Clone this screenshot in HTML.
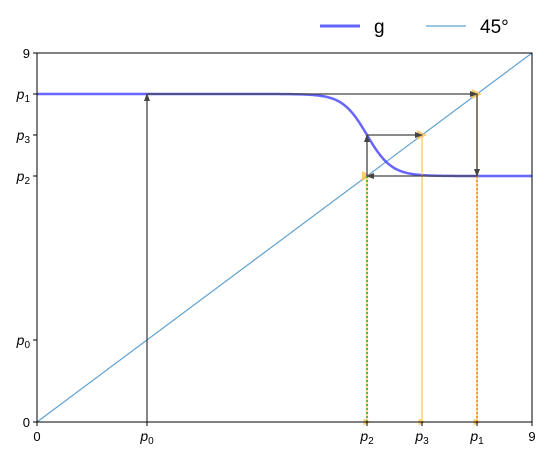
<!DOCTYPE html>
<html><head><meta charset="utf-8"><style>
body{margin:0;background:#fff;font-family:"Liberation Sans",sans-serif}
</style></head><body>
<svg id="c" width="546" height="457" xmlns="http://www.w3.org/2000/svg">
<defs>
<marker id="ak" markerWidth="8" markerHeight="8" refX="7" refY="4" orient="auto" markerUnits="userSpaceOnUse"><path d="M0,1 L8,4 L0,7 z" fill="#444"/></marker>
</defs>
<g id="plot"></g>
<g>
<line x1="320" y1="26" x2="360" y2="26" stroke="#6464ff" stroke-width="3"/>
<text x="374" y="33" font-size="19" fill="#000">g</text>
<line x1="426" y1="26" x2="466" y2="26" stroke="#5fa2d0" stroke-width="1.2"/>
<text x="480" y="33" font-size="19" fill="#000">45°</text>
</g>
</svg>
<script>
const axisTicks=[0,9];
const pointNames=["p0","p1","p2","p3"];
const pointValues=[2,8,6,7];
const gLow=[6];const gHigh=[8];const gCenter=[6];const gSteep=[4.5];
const X0=37,X1=532,Y0=422,Y1=53;
const sx=v=>X0+(v-0)/(9-0)*(X1-X0);
const sy=v=>Y0-(v-0)/(9-0)*(Y0-Y1);
const g=x=>gLow[0]+(gHigh[0]-gLow[0])/(1+Math.exp(gSteep[0]*(x-gCenter[0])));
const NS="http://www.w3.org/2000/svg";
const P=document.getElementById('plot');
function mk(t,a,p){const e=document.createElementNS(NS,t);for(const k in a)e.setAttribute(k,a[k]);(p||P).appendChild(e);return e;}
function sub(n){return n.slice(1);}
let d=mk('line',{x1:sx(0),y1:sy(0),x2:sx(9),y2:sy(9),stroke:'#5fa2d0','stroke-width':1.2});


let pts=[];for(let i=0;i<=300;i++){const x=9*i/300;pts.push(sx(x).toFixed(2)+','+sy(g(x)).toFixed(2));}
let gc=mk('polyline',{points:pts.join(' '),fill:'none',stroke:'#3333ff','stroke-width':2.5,'stroke-opacity':0.75});


const v={};pointNames.forEach((n,i)=>v[n]=pointValues[i]);
[v.p2,v.p3,v.p1].forEach((x,i)=>{
 let l=mk('line',{x1:sx(x),y1:sy(0),x2:sx(x),y2:sy(x),stroke:'#ffb52e','stroke-width':1.5,'stroke-opacity':0.65});
 
 
 [0,x].forEach((yy,j)=>{
  const h=j?5:3.5;
  let m=mk('path',{d:`M${sx(x)-h},${sy(yy)-h} L${sx(x)+h},${sy(yy)} L${sx(x)-h},${sy(yy)+h} z`,fill:'#ffc04d',opacity:0.8});
  
  
 });
});
let dg=mk('line',{x1:sx(v.p2),y1:sy(0),x2:sx(v.p2),y2:sy(v.p2),stroke:'#2ca02c','stroke-width':1.5,'stroke-dasharray':'2,2'});


let dor=mk('line',{x1:sx(v.p1),y1:sy(0),x2:sx(v.p1),y2:sy(v.p2),stroke:'#ff7f0e','stroke-width':1.5,'stroke-dasharray':'2,2'});


const arr=[[v.p0,0,v.p0,v.p1],[v.p0,v.p1,v.p1,v.p1],[v.p1,v.p1,v.p1,v.p2],[v.p1,v.p2,v.p2,v.p2],[v.p2,v.p2,v.p2,v.p3],[v.p2,v.p3,v.p3,v.p3]];
arr.forEach((a,i)=>{
 let l=mk('line',{x1:sx(a[0]),y1:sy(a[1]),x2:sx(a[2]),y2:sy(a[3]),stroke:'#444','stroke-width':1.3,'marker-end':'url(#ak)'});
 
 
});
let f=mk('rect',{x:X0,y:Y1,width:X1-X0,height:Y0-Y1,fill:'none',stroke:'#000','stroke-width':1});


function xt(val,label,isP,idx){
 const x=sx(val);
 let t=mk('line',{x1:x,y1:Y0,x2:x,y2:Y0+4,stroke:'#000'});
 
 
 let tx=mk('text',{x:x,y:Y0+19,'font-size':isP?14:13,'text-anchor':'middle','font-style':isP?'italic':'normal'});
 
 
 if(isP){tx.textContent='p';const s=mk('tspan',{'font-size':10,dy:3,'font-style':'normal'},tx);s.textContent=sub(label);}else tx.textContent=label;
}
function yt(val,label,isP,idx){
 const y=sy(val);
 let t=mk('line',{x1:X0-4,y1:y,x2:X0,y2:y,stroke:'#000'});
 
 
 let tx=mk('text',{x:X0-7,y:y+5,'font-size':isP?14:13,'text-anchor':'end','font-style':isP?'italic':'normal'});
 
 
 if(isP){tx.textContent='p';const s=mk('tspan',{'font-size':10,dy:3,'font-style':'normal'},tx);s.textContent=sub(label);}else tx.textContent=label;
}
axisTicks.forEach((t,i)=>{xt(t,String(t),false,'n'+i);yt(t,String(t),false,'n'+i);});
pointNames.forEach((n,i)=>{xt(pointValues[i],n,true,n);yt(pointValues[i],n,true,n);});
</script>
</body></html>
